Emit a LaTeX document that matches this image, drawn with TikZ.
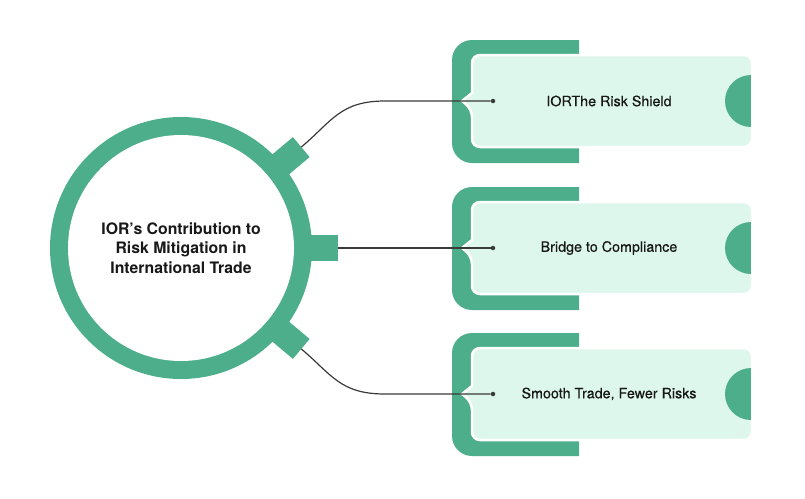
\documentclass[tikz,border=0pt]{standalone}
\usepackage{fontspec}
\setmainfont{TeX Gyre Heros}
\newfontface\medfont{TeX Gyre Heros}[FakeBold=0.4]
\usetikzlibrary{calc}
\definecolor{grn}{RGB}{77,174,140}
\definecolor{lite}{RGB}{221,247,236}
\definecolor{ink}{RGB}{24,24,24}
\definecolor{wire}{RGB}{58,58,58}
\tikzset{
  hubtext/.style={align=center,text=ink,font=\fontsize{15.8}{19.8}\selectfont\bfseries},
  boxtext/.style={text=ink,font=\fontsize{14.3}{16}\selectfont\medfont},
  dotnode/.style={circle,fill=wire,inner sep=0pt,minimum size=4.5pt},
  wireline/.style={draw=wire,line width=1.2pt},
  litebox/.style={fill=lite,draw=white,line width=2.5pt}
}
\begin{document}
\begin{tikzpicture}[x=1pt,y=-1pt]
\useasboundingbox (0,0) rectangle (805,498);
\coordinate (C) at (181,248);
% stubs
\foreach \a/\n in {-40/1,0/2,40/3}{
  \fill[grn] ($(C)+(\a:112)+(\a+90:13)$) -- ($(C)+(\a:157)+(\a+90:13)$)
     -- ($(C)+(\a:157)+(\a-90:13)$) -- ($(C)+(\a:112)+(\a-90:13)$) -- cycle;
  \coordinate (s\n) at ($(C)+(\a:157)$);
}
\fill[grn] (C) circle (131);
\fill[white] (C) circle (113);
\node[hubtext] (hub) at (C) {IOR’s Contribution to\\Risk Mitigation in\\International Trade};
% boxes
\foreach \cy/\t/\n in {101/{IORThe Risk Shield}/1,248/{Bridge to Compliance}/2,394/{Smooth Trade, Fewer Risks}/3}{
  \begin{scope}
    \clip (0,0) rectangle (579,498);
    \fill[grn,rounded corners=20pt] (452,\cy-61) rectangle (610,\cy+62);
  \end{scope}
  \path[litebox] (472,\cy+8) -- (462,\cy) -- (472,\cy-8) [rounded corners=8pt] -- (472,\cy-46)
     -- (752,\cy-46) -- (752,\cy+46) -- (472,\cy+46) -- cycle;
  \begin{scope}
    \clip (0,0) rectangle (750.8,498);
    \fill[grn] (751,\cy) circle (26);
  \end{scope}
  \node[dotnode] (d\n) at (493,\cy) {};
  \node[boxtext] (t\n) at (609,\cy) {\t};
}
\coordinate (k1) at (385,101);
\coordinate (k3) at (385,394);
\draw[wireline] (s1) .. controls +(-40:40) and +(-45,0) .. (k1) -- (d1);
\draw[wireline] (s2) -- (d2);
\draw[wireline] (s3) .. controls +(40:40) and +(-45,0) .. (k3) -- (d3);
\end{tikzpicture}
\end{document}
